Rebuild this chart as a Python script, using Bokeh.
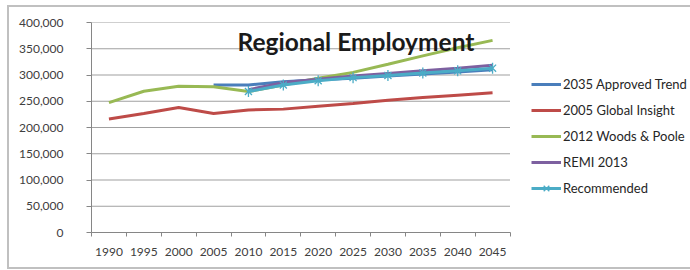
import math
from bokeh.plotting import figure
from bokeh.models import (FixedTicker, NumeralTickFormatter, Legend, LegendItem,
                          Label, Range1d, ColumnDataSource)
from bokeh.embed import file_html
from bokeh.resources import INLINE

NaN = float("nan")

years = [1990, 1995, 2000, 2005, 2010, 2015, 2020, 2025, 2030, 2035, 2040, 2045]
approved_trend = [NaN, NaN, NaN, 281000, 281000, 287000, 291000, 294000, 298000, 302000, 305500, 310000]
global_insight = [216000, 226500, 238000, 226500, 233500, 235000, 240500, 245500, 252000, 257000, 261500, 266000]
woods_poole = [247500, 269000, 278500, 277500, 268500, 281000, 294000, 305000, 320500, 336500, 352000, 366000]
remi_2013 = [NaN, NaN, NaN, NaN, 272000, 285500, 292000, 298000, 303000, 308000, 313000, 318500]
recommended = [NaN, NaN, NaN, NaN, 268500, 281000, 289000, 295000, 299000, 304000, 308000, 313000]

y_ticks = [0, 50000, 100000, 150000, 200000, 250000, 300000, 350000, 400000]

series = [
    ("2035 Approved Trend", approved_trend, "#4A7EBB"),
    ("2005 Global Insight", global_insight, "#BE4B48"),
    ("2012 Woods & Poole", woods_poole, "#98B954"),
    ("REMI 2013", remi_2013, "#7D60A0"),
    ("Recommended", recommended, "#4BACC6"),
]

FONT = "Lato"
TXT = "#404040"

W, H = 690, 270
LEFT, TOP, BOTTOM = 91, 22, 38
PLOT_W = 418.5                      # width of the category area in px
x0 = years[0] - 2.5
x1 = years[-1] + 2.5
frame_w = W - LEFT
x_end = x0 + (x1 - x0) * frame_w / PLOT_W   # frame extends under the legend

p = figure(width=W, height=H, output_backend="svg", toolbar_location=None,
           x_range=Range1d(x0, x_end), y_range=Range1d(0, 400000),
           min_border_left=LEFT, min_border_right=0, min_border_top=TOP,
           min_border_bottom=BOTTOM)
p.outline_line_color = None
p.border_fill_color = None
g = "linear-gradient(#C0C0C0, #C0C0C0)"
p.styles = {
    "background": (f"{g} 7px 5px / 2px 264px no-repeat, "
                   f"{g} 7px 5px / 700px 2px no-repeat, "
                   f"{g} 7px 267px / 700px 2px no-repeat, white"),
}

# horizontal gridlines limited to the category area
p.segment(x0=[x0] * len(y_ticks), x1=[x1] * len(y_ticks), y0=y_ticks, y1=y_ticks,
          line_color="#A0A0A0", line_width=1.2, level="underlay")

items = []
for name, vals, col in series:
    src = ColumnDataSource(dict(x=years, y=vals))
    r = p.line("x", "y", source=src, line_color=col, line_width=3)
    rs = [r]
    if name == "Recommended":
        m1 = p.scatter("x", "y", source=src, marker="x", size=10,
                       line_color=col, line_width=1.3)
        m2 = p.scatter("x", "y", source=src, marker="dash", size=11, angle=math.pi / 2,
                       line_color=col, line_width=1.3)
        rs += [m1, m2]
    items.append(LegendItem(label=name, renderers=rs))

legend = Legend(items=items, location=(440, 34), padding=0, margin=0,
                glyph_width=30, glyph_height=20, label_height=20, spacing=6,
                label_standoff=2, border_line_color=None, background_fill_alpha=0,
                label_text_font=FONT, label_text_font_size="13px",
                label_text_color="#262626")
p.add_layout(legend, "center")

# x axis: labels at category centres, tick marks at category boundaries
boundaries = [y - 2.5 for y in years] + [years[-1] + 2.5]
p.xaxis.ticker = FixedTicker(ticks=years, minor_ticks=boundaries)
p.xaxis.bounds = (x0, x1)
p.xaxis.major_tick_line_color = None
p.xaxis.minor_tick_in = 0
p.xaxis.minor_tick_out = 4
p.xaxis.minor_tick_line_color = "#868686"
p.xaxis.axis_line_color = "#868686"
p.xaxis.major_label_standoff = 9
p.xgrid.visible = False

p.yaxis.ticker = FixedTicker(ticks=y_ticks)
p.yaxis.formatter = NumeralTickFormatter(format="0,0")
p.yaxis.major_tick_in = 0
p.yaxis.major_tick_out = 5
p.yaxis.minor_tick_line_color = None
p.yaxis.major_tick_line_color = "#868686"
p.yaxis.axis_line_color = "#868686"
p.yaxis.major_label_standoff = 23
p.ygrid.visible = False

for ax in (p.xaxis, p.yaxis):
    ax.major_label_text_font = FONT
    ax.major_label_text_font_size = "12px"
    ax.major_label_text_color = TXT

title = Label(x=264.5, y=191, x_units="screen", y_units="screen",
              text="Regional Employment", text_align="center",
              text_baseline="alphabetic", text_font=FONT, text_font_style="bold",
              text_font_size="24.5px", text_color="#1a1a1a")
p.add_layout(title)

open("out.html", "w").write(file_html(p, INLINE))
